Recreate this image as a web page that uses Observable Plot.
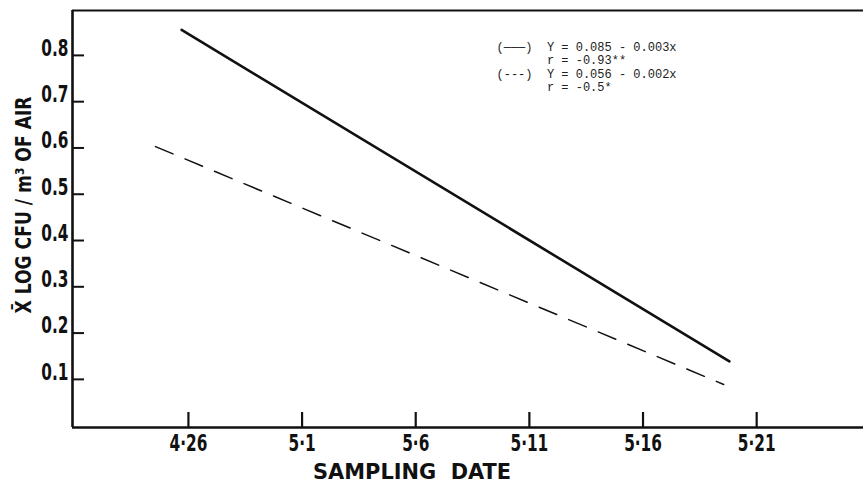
<!DOCTYPE html>
<html>
<head>
<meta charset="utf-8">
<script src="https://cdn.jsdelivr.net/npm/d3@7"></script>
<script src="https://cdn.jsdelivr.net/npm/@observablehq/plot@0.6"></script>
<style>
  html, body { margin: 0; padding: 0; background: #fff; }
  svg text { white-space: pre; }
</style>
</head>
<body>
<div id="chart"></div>
<script>
// Days counted from April 26 (4·26 = 0)
const xTickValues = [0, 5, 10, 15, 20, 25];
const xTickLabels = ["4·26", "5·1", "5·6", "5·11", "5·16", "5·21"];
const yTickValues = [0.1, 0.2, 0.3, 0.4, 0.5, 0.6, 0.7, 0.8];
const yTickLabels = ["0.1", "0.2", "0.3", "0.4", "0.5", "0.6", "0.7", "0.8"];

// Regression lines (endpoints)
const solidDays = [-0.3, 23.8];
const solidValues = [0.855, 0.139];
const dashedDays = [-1.45, 23.55];
const dashedValues = [0.603, 0.089];

const legendLines = [
  "(───)  Y = 0.085 - 0.003x",
  "       r = -0.93**",
  "(---)  Y = 0.056 - 0.002x",
  "       r = -0.5*"
];
const yTitle = "X\u0304 LOG CFU / m\u00B3 OF AIR";
const xTitle = "SAMPLING  DATE";

const xDomain = [-5.1, 29.7];
const yDomain = [-0.004, 0.897];

const solid = solidDays.map((d, i) => ({day: d, value: solidValues[i]}));
const dashed = dashedDays.map((d, i) => ({day: d, value: dashedValues[i]}));

const condensed = "'Liberation Sans Narrow', 'DejaVu Sans Condensed', 'Liberation Sans', sans-serif";
const mono = "'Liberation Mono', 'DejaVu Sans Mono', monospace";

const W = 863, H = 484, mL = 72, mR = 0, mT = 10, mB = 57;
const plotW = W - mL - mR, plotH = H - mT - mB;

const chart = Plot.plot({
  width: W,
  height: H,
  marginLeft: mL,
  marginRight: mR,
  marginTop: mT,
  marginBottom: mB,
  style: {background: "#fff", color: "#111"},
  x: {domain: xDomain, axis: null},
  y: {domain: yDomain, axis: null},
  marks: [
    // axis frame lines
    Plot.ruleY([yDomain[1]], {stroke: "#111", strokeWidth: 1.8}),
    Plot.ruleY([yDomain[0]], {stroke: "#111", strokeWidth: 2.4}),
    Plot.ruleX([xDomain[0]], {stroke: "#111", strokeWidth: 2.6}),
    // inward ticks
    Plot.tickX(xTickValues, {x: d => d, insetTop: plotH - 15, stroke: "#111", strokeWidth: 2.2}),
    Plot.tickY(yTickValues, {y: d => d, insetRight: plotW - 12, stroke: "#111", strokeWidth: 2}),
    // tick labels
    Plot.text(xTickValues, {
      x: d => d, frameAnchor: "bottom", dy: 16, lineAnchor: "middle",
      text: (d, i) => xTickLabels[i],
      fontFamily: condensed, fontWeight: "bold", fontSize: 23, fill: "#111"
    }),
    Plot.text(yTickValues, {
      y: d => d, frameAnchor: "left", dx: -4, dy: -7, textAnchor: "end", lineAnchor: "middle",
      text: (d, i) => yTickLabels[i],
      fontFamily: condensed, fontWeight: "bold", fontSize: 23, fill: "#111"
    }),
    // axis titles
    Plot.text([xTitle], {
      frameAnchor: "bottom", dx: -56, dy: 44, lineAnchor: "middle", textAnchor: "middle",
      fontFamily: condensed, fontWeight: "bold", fontSize: 22, fill: "#111",
      letterSpacing: "3px"
    }),
    Plot.text([yTitle], {
      frameAnchor: "left", dx: -48, dy: -14, rotate: -90, lineAnchor: "middle", textAnchor: "middle",
      fontFamily: condensed, fontWeight: "bold", fontSize: 21, fill: "#111",
      letterSpacing: "3px"
    }),
    // regression lines
    Plot.line(solid, {x: "day", y: "value", stroke: "#111", strokeWidth: 2.6}),
    Plot.line(dashed, {x: "day", y: "value", stroke: "#111", strokeWidth: 1.5, strokeDasharray: "19,13"}),
    // legend
    Plot.text([legendLines.join("\n")], {
      frameAnchor: "top-left", dx: 424, dy: 31, textAnchor: "start", lineAnchor: "top",
      lineHeight: 1.12, fontFamily: mono, fontSize: 12, fill: "#222"
    })
  ]
});
document.getElementById("chart").appendChild(chart);

// Emulate the narrow hand-lettered typeface by compressing glyphs horizontally
function squeeze(t, target) {
  t.setAttribute("textLength", target);
  t.setAttribute("lengthAdjust", "spacingAndGlyphs");
}
chart.querySelectorAll("text").forEach(t => {
  const s = t.textContent;
  if (s === xTitle) squeeze(t, 198);
  else if (s === yTitle) squeeze(t, 217);
  else if (xTickLabels.includes(s) || yTickLabels.includes(s)) {
    squeeze(t, t.getComputedTextLength() * 0.74);
  }
});
</script>
</body>
</html>
